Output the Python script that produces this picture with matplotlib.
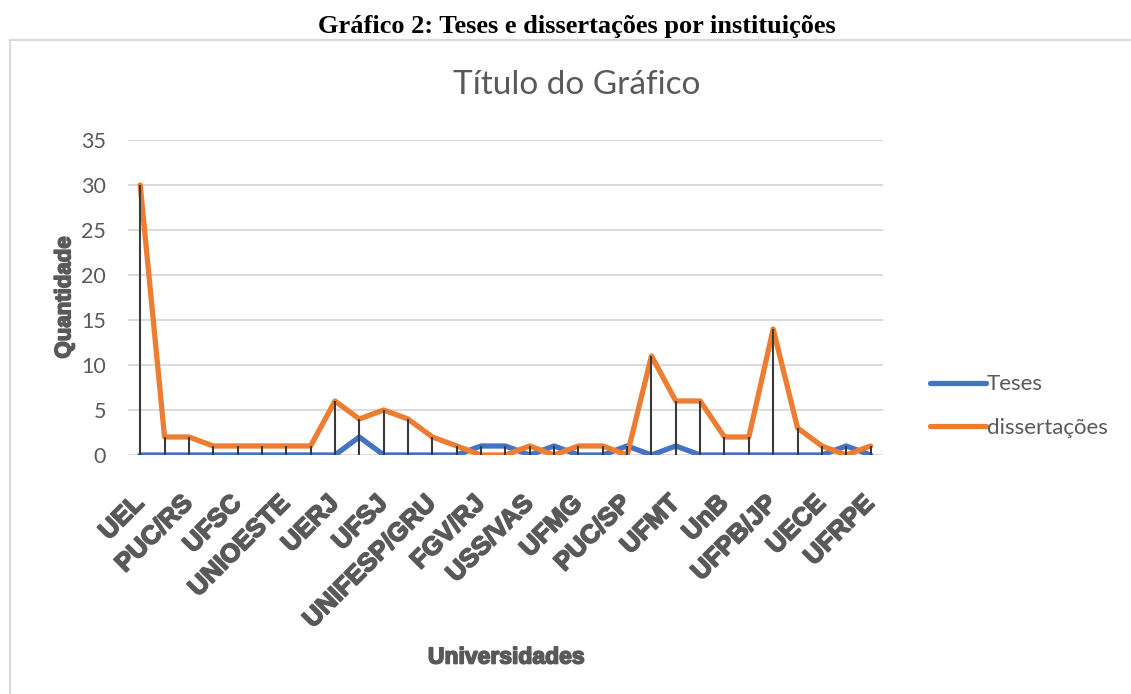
import matplotlib.pyplot as plt
import matplotlib.patheffects as pe
from matplotlib.patches import Rectangle

# values (31 institutions, only every second one is labelled)
teses = [0, 0, 0, 0, 0, 0, 0, 0, 0, 2, 0, 0, 0, 0, 1, 1, 0, 1, 0, 0,
         1, 0, 1, 0, 0, 0, 0, 0, 0, 1, 0]
dissertacoes = [30, 2, 2, 1, 1, 1, 1, 1, 6, 4, 5, 4, 2, 1, 0, 0, 1, 0, 1, 1,
                0, 11, 6, 6, 2, 2, 14, 3, 1, 0, 1]
labels = ['UEL', 'PUC/RS', 'UFSC', 'UNIOESTE', 'UERJ', 'UFSJ', 'UNIFESP/GRU',
          'FGV/RJ', 'USS/VAS', 'UFMG', 'PUC/SP', 'UFMT', 'UnB', 'UFPB/JP',
          'UECE', 'UFRPE']
yticks = [0, 5, 10, 15, 20, 25, 30, 35]

gray = '#595959'
blue = '#4472C4'
orange = '#ED7D31'
heavy = [pe.withStroke(linewidth=1.2, foreground=gray)]

fig = plt.figure(figsize=(11.31, 6.94), dpi=100)
ax = fig.add_axes([0.1132, 0.3444, 0.6673, 0.4539])

x = list(range(len(teses)))
ax.plot(x, teses, color=blue, lw=3.8, label='Teses',
        solid_capstyle='round', solid_joinstyle='round', zorder=2)
ax.plot(x, dissertacoes, color=orange, lw=3.8, label='dissertações',
        solid_capstyle='round', solid_joinstyle='round', zorder=2)
# drop lines down to the axis
tops = [max(a, b) for a, b in zip(teses, dissertacoes)]
ax.vlines(x, 0, tops, color='#3a3a3a', lw=1.5, zorder=3)

ax.set_xlim(-0.5, len(teses) - 0.5)
ax.set_ylim(0, 35)
ax.set_yticks(yticks)
ax.set_xticks(range(0, len(teses), 2))
ax.set_xticklabels(labels, rotation=45, ha='right', va='center',
                   rotation_mode='anchor', fontsize=18.5, fontweight='heavy',
                   color=gray, family='Liberation Sans')
for t in ax.get_xticklabels():
    t.set_path_effects(heavy)
for t in ax.get_yticklabels():
    t.set_fontsize(15.5)
    t.set_color(gray)
    t.set_family('Lato')
ax.tick_params(axis='both', length=0)
ax.tick_params(axis='y', pad=16)
ax.tick_params(axis='x', pad=32)
ax.grid(axis='y', color='#D9D9D9', lw=1.3, zorder=0)
for s in ax.spines.values():
    s.set_visible(False)

ax.set_ylabel('Quantidade', fontsize=16, fontweight='heavy', color=gray,
              family='Liberation Sans', labelpad=4, path_effects=heavy)

fig.text(506 / 1131, 1 - 657 / 694, 'Universidades', fontsize=16.5,
         fontweight='heavy', color=gray, family='Liberation Sans',
         ha='center', va='center', path_effects=heavy)
fig.text(577 / 1131, 1 - 85 / 694, 'Título do Gráfico', fontsize=24,
         color=gray, family='Lato', ha='center', va='center')
fig.text(577 / 1131, 1 - 27 / 694,
         'Gráfico 2: Teses e dissertações por instituições', fontsize=19,
         fontweight='bold', family='Liberation Serif', ha='center',
         va='center')

# chart border (only left and top edges fall inside the picture)
fig.patches.append(Rectangle((10 / 1131, -0.1), 1.2, 1 - 40 / 694 + 0.1,
                             transform=fig.transFigure, fill=False,
                             edgecolor='#D9D9D9', lw=1.5))

leg = fig.legend(loc='center left', bbox_to_anchor=(0.805, 1 - 406 / 694),
                 frameon=False, fontsize=16, handlelength=2.5,
                 handletextpad=0.05, labelspacing=1.05)
for t in leg.get_texts():
    t.set_color(gray)
    t.set_family('Lato')

fig.savefig('out.png', dpi=100)
